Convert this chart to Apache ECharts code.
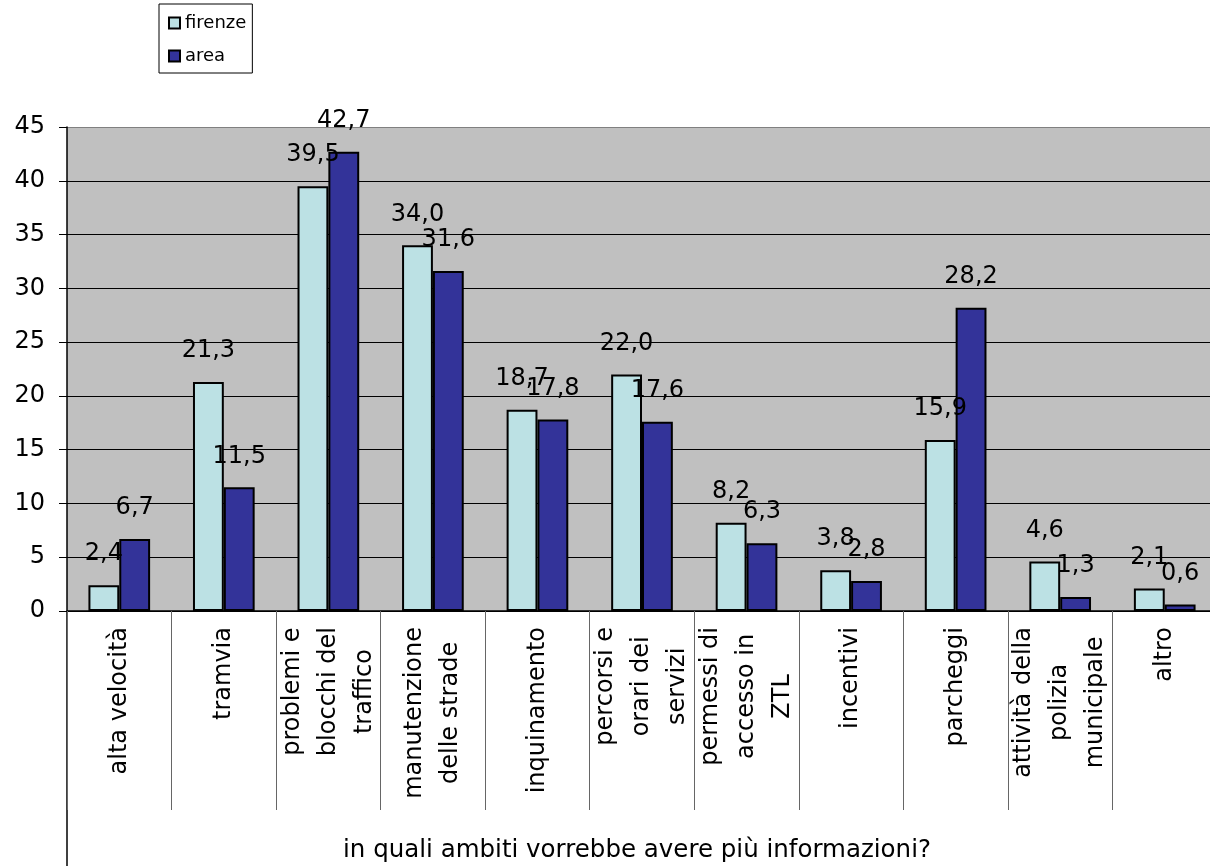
<!DOCTYPE html>
<html>
<head>
<meta charset="utf-8">
<script src="https://cdn.jsdelivr.net/npm/echarts@6/dist/echarts.min.js"></script>
<style>
  html, body { margin: 0; padding: 0; background: #fff; }
  #chart { width: 1210px; height: 866px; }
</style>
</head>
<body>
<div id="chart"></div>
<script>
const categories = [
  'alta velocità',
  'tramvia',
  'problemi e\nblocchi del\ntraffico',
  'manutenzione\ndelle strade',
  'inquinamento',
  'percorsi e\norari dei\nservizi',
  'permessi di\naccesso in\nZTL',
  'incentivi',
  'parcheggi',
  'attività della\npolizia\nmunicipale',
  'altro',
];
const firenze = [2.4, 21.3, 39.5, 34.0, 18.7, 22.0, 8.2, 3.8, 15.9, 4.6, 2.1];
const area = [6.7, 11.5, 42.7, 31.6, 17.8, 17.6, 6.3, 2.8, 28.2, 1.3, 0.6];
const yTicks = { min: 0, max: 45, interval: 5 };
const xTitle = 'in quali ambiti vorrebbe avere più informazioni?';

const font = 'DejaVu Sans';
const fmt = (v) => v.toFixed(1).replace('.', ',');

const chart = echarts.init(document.getElementById('chart'));

const barLabel = {
  show: true,
  position: 'top',
  distance: 19,
  fontFamily: font,
  fontSize: 24,
  color: '#000',
  formatter: (p) => fmt(p.value),
};

chart.setOption({
  animation: false,
  textStyle: { fontFamily: font },
  legend: {
    orient: 'vertical',
    left: 159,
    top: 4,
    padding: [10, 6, 8, 9],
    itemGap: 15,
    itemWidth: 11,
    itemHeight: 11,
    icon: 'rect',
    borderColor: '#000',
    borderWidth: 1,
    textStyle: { fontFamily: font, fontSize: 18, color: '#000' },
    data: ['firenze', 'area'],
  },
  grid: {
    left: 67,
    right: -7,
    top: 127,
    bottom: 255,
    outerBoundsMode: 'none',
    containLabel: false,
    show: true,
    backgroundColor: '#c0c0c0',
    borderWidth: 0,
  },
  xAxis: {
    type: 'category',
    data: categories,
    name: xTitle,
    nameLocation: 'middle',
    nameGap: 227,
    nameTextStyle: { fontFamily: font, fontSize: 24.5, color: '#000', padding: [0, 10, 0, 0] },
    axisLine: { show: true, lineStyle: { color: '#000', width: 1.5 } },
    axisTick: { show: true, length: 199, lineStyle: { color: '#666', width: 1 } },
    axisLabel: {
      interval: 0,
      rotate: 90,
      margin: 16,
      color: '#000',
      fontFamily: font,
      fontSize: 24,
      lineHeight: 36,
      formatter: (v) => v.split('\n').map((s) => '{c|' + s + '}').join('\n'),
      rich: {
        c: { align: 'center', fontFamily: font, fontSize: 24, lineHeight: 36, color: '#000' },
      },
    },
  },
  yAxis: {
    type: 'value',
    min: yTicks.min,
    max: yTicks.max,
    interval: yTicks.interval,
    axisLine: { show: true, lineStyle: { color: '#000', width: 1.5 } },
    axisTick: { show: true, length: 8, lineStyle: { color: '#000' } },
    axisLabel: { margin: 22, color: '#000', fontFamily: font, fontSize: 24 },
    splitLine: {
      show: true,
      lineStyle: {
        color: ['#000', '#000', '#000', '#000', '#000', '#000', '#000', '#000', '#000', '#808080'],
        width: 1.2,
      },
    },
  },
  graphic: [
    {
      type: 'line',
      shape: { x1: 67, y1: 611, x2: 67, y2: 866 },
      style: { stroke: '#000', lineWidth: 1.5 },
    },
  ],
  series: [
    {
      name: 'firenze',
      type: 'bar',
      data: firenze,
      barGap: '0%',
      barCategoryGap: '41%',
      itemStyle: { color: '#bce1e4', borderColor: '#000', borderWidth: 2 },
      label: barLabel,
    },
    {
      name: 'area',
      type: 'bar',
      data: area,
      itemStyle: { color: '#333399', borderColor: '#000', borderWidth: 2 },
      label: barLabel,
    },
  ],
});
</script>
</body>
</html>
